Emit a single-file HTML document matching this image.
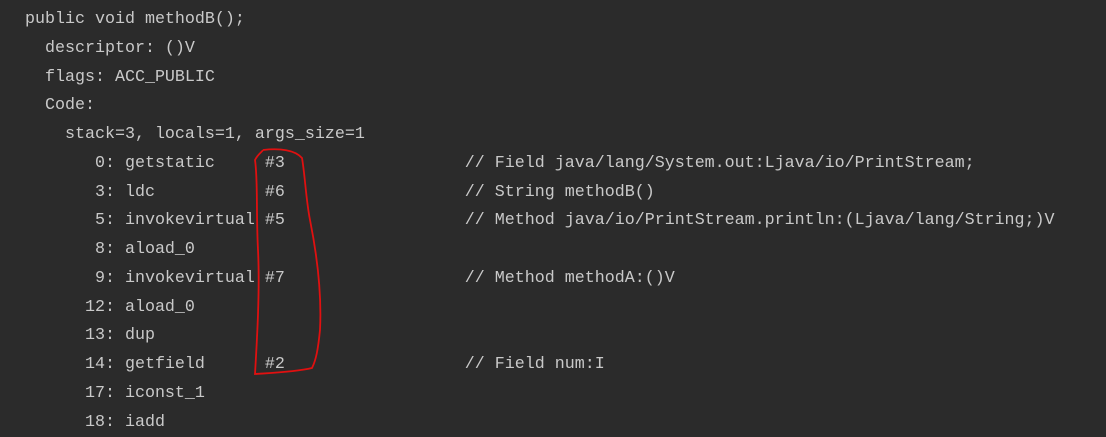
<!DOCTYPE html>
<html><head><style>
html,body{margin:0;padding:0;background:#2b2b2b;width:1106px;height:434px;overflow:hidden}
pre{margin:0;position:absolute;left:25px;top:6px;font-family:"Liberation Mono",monospace;font-size:16.67px;line-height:28.75px;color:#c9c9c9}
svg{position:absolute;left:0;top:0}
</style></head><body>
<pre>public void methodB();
  descriptor: ()V
  flags: ACC_PUBLIC
  Code:
    stack=3, locals=1, args_size=1
       0: getstatic     #3                  // Field java/lang/System.out:Ljava/io/PrintStream;
       3: ldc           #6                  // String methodB()
       5: invokevirtual #5                  // Method java/io/PrintStream.println:(Ljava/lang/String;)V
       8: aload_0
       9: invokevirtual #7                  // Method methodA:()V
      12: aload_0
      13: dup
      14: getfield      #2                  // Field num:I
      17: iconst_1
      18: iadd</pre>
<svg width="1106" height="434"><path d="M263,150 C280,148 295,150 302,158 C305,175 306,200 310,220 C316,250 322,290 320,330 C318,350 316,360 312,368 C295,372 270,373 255,374 C257,340 260,290 258,250 C256,210 258,180 255,160 C258,154 262,152 263,150" fill="none" stroke="#e01010" stroke-width="1.8"/></svg>
</body></html>
